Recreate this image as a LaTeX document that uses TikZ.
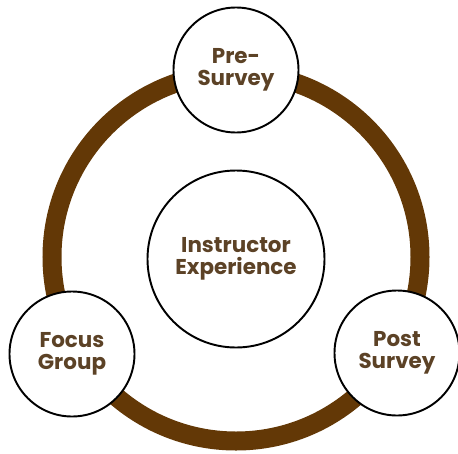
\documentclass[tikz,border=0pt]{standalone}
\usepackage{fontspec}
\setmainfont{Poppins}
\usetikzlibrary{positioning}
\definecolor{ringbrown}{RGB}{99,56,6}
\definecolor{txtbrown}{RGB}{92,66,38}
\tikzset{
  st/.style={circle, minimum size=2.5cm, inner sep=0pt, draw=black, line width=1.1pt, fill=white, text=txtbrown, align=center, font=\bfseries\fontsize{12.2}{12.8}\selectfont},
  ce/.style={st, minimum size=3.54cm},
  rg/.style={draw=ringbrown, line width=0.38cm}
}
\begin{document}
\begin{tikzpicture}
	\useasboundingbox (-4.72,-3.92) rectangle (4.44,5.14);
	\draw[rg] (0,0) circle (3.68);
	\node[ce] (ie) at (0,-0.04) {Instructor\\Experience};
	\node[st] (pre) at (0,3.74) {Pre-\\Survey};
	\node[st] (fg) at (-3.28,-1.94) {Focus\\Group};
	\node[st] (post) at (3.22,-1.92) {Post\\Survey};
\end{tikzpicture}
\end{document}
